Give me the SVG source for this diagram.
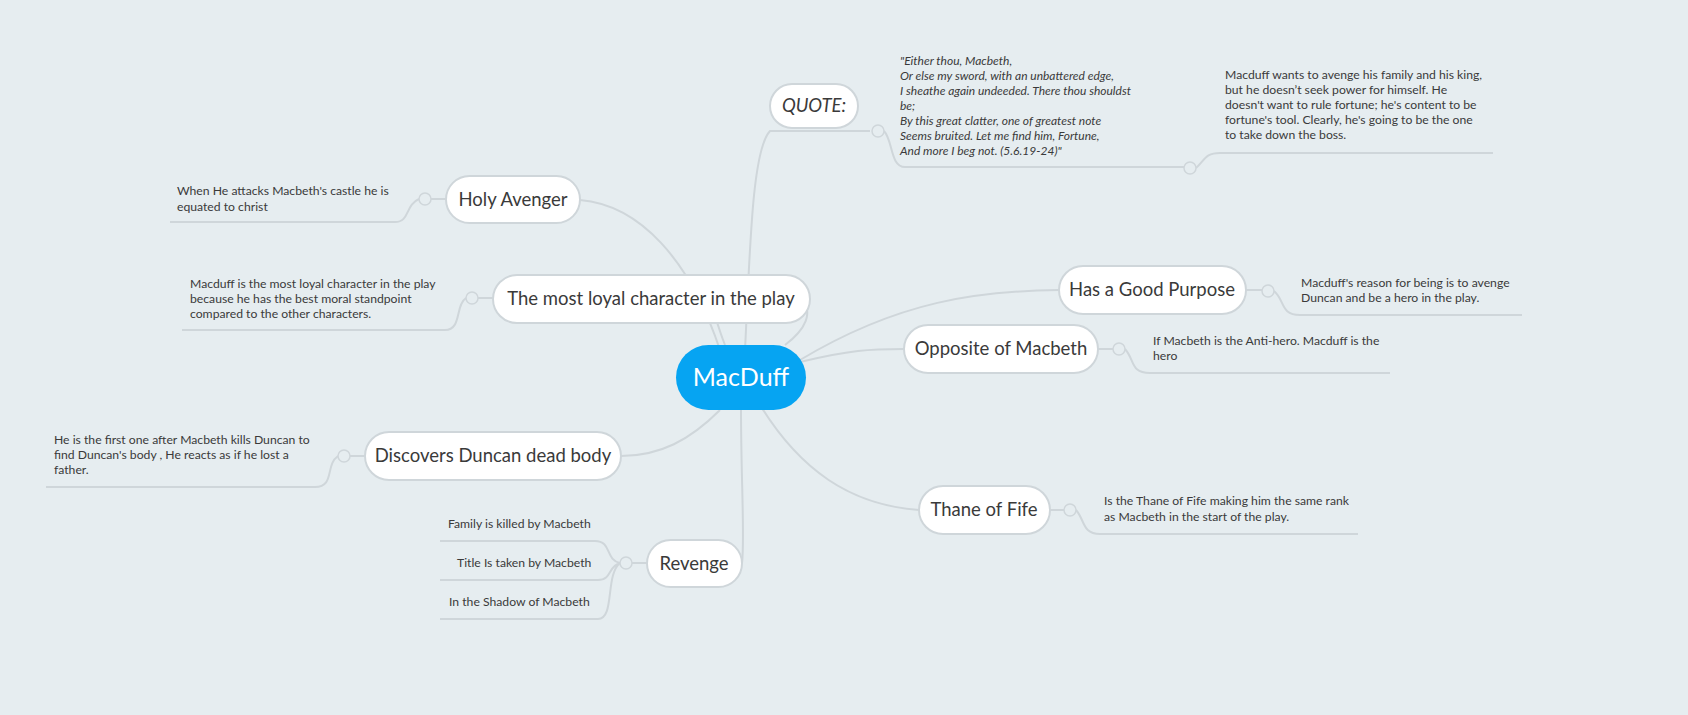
<svg xmlns="http://www.w3.org/2000/svg" width="1688" height="715" viewBox="0 0 1688 715">
<style>
.c{fill:none;stroke:#cfd6da;stroke-width:2}
.n{fill:#fff;stroke:#cfd6da;stroke-width:2}
.t{font-family:Lato,"Open Sans",sans-serif;font-size:18.5px;fill:#3a3a3a;text-anchor:middle}
.d{font-family:Lato,"Open Sans",sans-serif;font-size:12.2px;fill:#3a3a3a}
.q{font-family:Lato,"Open Sans",sans-serif;font-size:12px;fill:#3a3a3a;font-style:italic}
.o{fill:#e6edf0;stroke:#cfd6da;stroke-width:1.5}
</style>
<rect width="1688" height="715" fill="#e6edf0"/>
<g id="connectors">
<path class="c" d="M745,350 C750,250 752,150 770,131 L870,131"/>
<path class="c" d="M720,350 C690,260 640,205 580,200"/>
<path class="c" d="M725,345 C715,320 712,300 705,290"/>
<path class="c" d="M785,345 C805,330 815,312 800,298"/>
<path class="c" d="M800,360 C900,300 980,291 1059,290"/>
<path class="c" d="M800,362 C850,350 870,349 904,349"/>
<path class="c" d="M760,405 C800,470 850,505 919,510"/>
<path class="c" d="M720,410 C690,440 660,456 621,456"/>
<path class="c" d="M741,410 C741,480 745,540 742,563"/>
<path class="c" d="M884,131 C893,140 890,167 905,167 L1184,167"/>
<path class="c" d="M1196,168 C1205,160 1205,153 1220,153 L1493,153"/>
<path class="c" d="M446,199 L431,199 M419,199 C405,205 410,222 395,222 L170,222"/>
<path class="c" d="M493,298 L478,298 M466,298 C455,305 462,330 445,330 L182,330"/>
<path class="c" d="M365,456 L350,456 M338,456 C325,465 335,487 315,487 L46,487"/>
<path class="c" d="M647,563 L632,563 M620,563 C605,560 612,541 595,541 L440,541 M620,563 C608,566 612,580 598,580 L440,580 M620,563 C605,575 615,619 598,619 L440,619"/>
<path class="c" d="M1246,290 L1262,290 M1274,291 C1285,300 1280,315 1300,315 L1522,315"/>
<path class="c" d="M1098,349 L1113,349 M1125,349 C1135,360 1130,373 1150,373 L1390,373"/>
<path class="c" d="M1050,510 L1064,510 M1076,510 C1085,520 1082,534 1100,534 L1358,534"/>
</g>
<g id="circles">
<circle class="o" cx="878" cy="131" r="6"/><circle class="o" cx="1190" cy="168" r="6"/>
<circle class="o" cx="425" cy="199" r="6"/><circle class="o" cx="472" cy="298" r="6"/>
<circle class="o" cx="344" cy="456" r="6"/><circle class="o" cx="626" cy="563" r="6"/>
<circle class="o" cx="1268" cy="291" r="6"/><circle class="o" cx="1119" cy="349" r="6"/>
<circle class="o" cx="1070" cy="510" r="6"/>
</g>
<g id="center"><rect x="676" y="345" width="130" height="65" rx="32.5" fill="#06a4f2"/><text x="741" y="386" font-family="Lato,'Open Sans',sans-serif" font-size="25" fill="#fff" text-anchor="middle">MacDuff</text></g>
<g id="quote"><rect class="n" x="770" y="84" width="88" height="44" rx="22"/><text class="t" x="814" y="112" font-style="italic">QUOTE:</text>
<text class="q"><tspan x="900" y="65">"Either thou, Macbeth,</tspan><tspan x="900" y="80">Or else my sword, with an unbattered edge,</tspan><tspan x="900" y="95">I sheathe again undeeded. There thou shouldst</tspan><tspan x="900" y="110">be;</tspan><tspan x="900" y="125">By this great clatter, one of greatest note</tspan><tspan x="900" y="140">Seems bruited. Let me find him, Fortune,</tspan><tspan x="900" y="155">And more I beg not. (5.6.19-24)"</tspan></text>
<text class="d"><tspan x="1225" y="79">Macduff wants to avenge his family and his king,</tspan><tspan x="1225" y="94">but he doesn’t seek power for himself. He</tspan><tspan x="1225" y="109">doesn't want to rule fortune; he's content to be</tspan><tspan x="1225" y="124">fortune's tool. Clearly, he's going to be the one</tspan><tspan x="1225" y="139">to take down the boss.</tspan></text></g>
<g id="holy"><rect class="n" x="446" y="176" width="134" height="47" rx="23.5"/><text class="t" x="513" y="206">Holy Avenger</text>
<text class="d"><tspan x="177" y="195">When He attacks Macbeth's castle he is</tspan><tspan x="177" y="211">equated to christ</tspan></text></g>
<g id="loyal"><rect class="n" x="493" y="275" width="317" height="48" rx="24"/><text class="t" x="651" y="305">The most loyal character in the play</text>
<text class="d"><tspan x="190" y="288">Macduff is the most loyal character in the play</tspan><tspan x="190" y="303">because he has the best moral standpoint</tspan><tspan x="190" y="318">compared to the other characters.</tspan></text></g>
<g id="discovers"><rect class="n" x="365" y="432" width="256" height="48" rx="24"/><text class="t" x="493" y="462">Discovers Duncan dead body</text>
<text class="d"><tspan x="54" y="444">He is the first one after Macbeth kills Duncan to</tspan><tspan x="54" y="459">find Duncan's body , He reacts as if he lost a</tspan><tspan x="54" y="474">father.</tspan></text></g>
<g id="revenge"><rect class="n" x="647" y="540" width="95" height="47" rx="23.5"/><text class="t" x="694" y="570">Revenge</text>
<text class="d" x="448" y="528">Family is killed by Macbeth</text>
<text class="d" x="457" y="567">Title Is taken by Macbeth</text>
<text class="d" x="449" y="606">In the Shadow of Macbeth</text></g>
<g id="purpose"><rect class="n" x="1059" y="266" width="187" height="48" rx="24"/><text class="t" x="1152" y="296">Has a Good Purpose</text>
<text class="d"><tspan x="1301" y="287">Macduff's reason for being is to avenge</tspan><tspan x="1301" y="302">Duncan and be a hero in the play.</tspan></text></g>
<g id="opposite"><rect class="n" x="904" y="325" width="194" height="48" rx="24"/><text class="t" x="1001" y="355">Opposite of Macbeth</text>
<text class="d"><tspan x="1153" y="345">If Macbeth is the Anti-hero. Macduff is the</tspan><tspan x="1153" y="360">hero</tspan></text></g>
<g id="thane"><rect class="n" x="919" y="486" width="131" height="48" rx="24"/><text class="t" x="984" y="516">Thane of Fife</text>
<text class="d"><tspan x="1104" y="505">Is the Thane of Fife making him the same rank</tspan><tspan x="1104" y="521">as Macbeth in the start of the play.</tspan></text></g>
</svg>
